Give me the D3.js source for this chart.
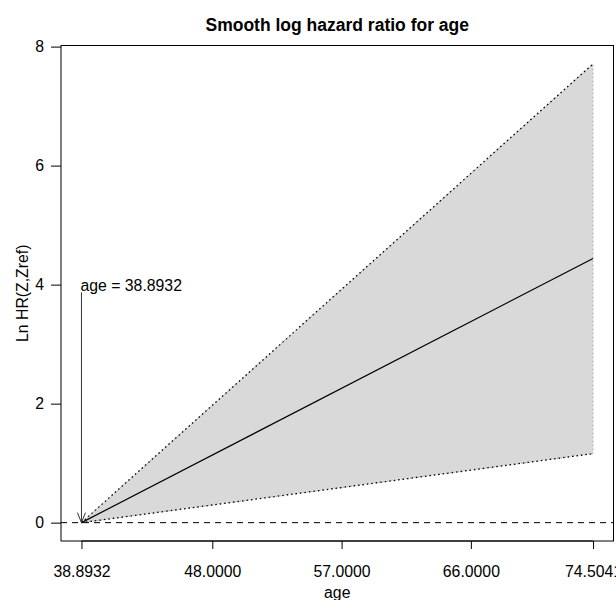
<!DOCTYPE html>
<html>
<head>
<meta charset="utf-8">
<script src="https://cdn.jsdelivr.net/npm/d3@7"></script>
<style>
  body { margin: 0; background: #fff; }
  text { font-family: "Liberation Sans", Arial, sans-serif; }
</style>
</head>
<body>
<div id="chart"></div>
<script>
/*
    DATA
*/
let AGE = [38.8932, 74.5041];
let LOG_HR = [0, 4.44];
let LOWER = [0, 1.16];
let UPPER = [0, 7.71];
let X_TICKS = [38.8932, 48, 57, 66, 74.5041];
let Y_TICKS = [0, 2, 4, 6, 8];
let REF_AGE = 38.8932;

/*
    LAYOUT
*/
let SIZE = { width: 616, height: 600 };
let PLOT = { left: 61, right: 613.5, top: 45.5, bot: 541 };
let FONT = 15.8;

let svg = d3.select("#chart")
    .append("svg")
    .attr("width", SIZE.width)
    .attr("height", SIZE.height);

// R style: 4% padding on each side of the data range
let xPad = (AGE[1] - AGE[0]) * 0.04;
let yMax = d3.max(UPPER), yMin = d3.min(LOWER);
let yPad = (yMax - yMin) * 0.04;

let x = d3.scaleLinear()
    .domain([AGE[0] - xPad, AGE[1] + xPad])
    .range([PLOT.left, PLOT.right]);
let y = d3.scaleLinear()
    .domain([yMin - yPad, yMax + yPad])
    .range([PLOT.bot, PLOT.top]);

let rows = AGE.map((a, i) => ({ age: a, est: LOG_HR[i], lo: LOWER[i], hi: UPPER[i] }));

// confidence band
let poly = rows.map(d => [x(d.age), y(d.hi)]).concat(rows.slice().reverse().map(d => [x(d.age), y(d.lo)]));
svg.append("path")
    .attr("d", "M" + poly.join("L") + "Z")
    .attr("fill", "#d9d9d9")
    .attr("stroke", "#a8a8a8")
    .attr("stroke-dasharray", "1.5,2.5");

let line = key => d3.line().x(d => x(d.age)).y(d => y(d[key]));

["hi", "lo"].forEach(k => {
    svg.append("path")
        .attr("d", line(k)(rows))
        .attr("fill", "none")
        .attr("stroke", "#000")
        .attr("stroke-width", 1.3)
        .attr("stroke-dasharray", "1.5,3");
});

svg.append("path")
    .attr("d", line("est")(rows))
    .attr("fill", "none")
    .attr("stroke", "#000")
    .attr("stroke-width", 1.2);

// reference line at 0
svg.append("line")
    .attr("x1", PLOT.left).attr("x2", PLOT.right)
    .attr("y1", y(0)).attr("y2", y(0))
    .attr("stroke", "#000")
    .attr("stroke-dasharray", "6,5");

// arrow annotation
let ax = x(REF_AGE), ay0 = y(3.87), ay1 = y(0);
svg.append("line")
    .attr("x1", ax).attr("x2", ax)
    .attr("y1", ay0).attr("y2", ay1)
    .attr("stroke", "#333")
    .attr("stroke-width", 1);
svg.append("path")
    .attr("d", `M${ax - 4},${ay1 - 10}L${ax},${ay1}L${ax + 4},${ay1 - 10}`)
    .attr("fill", "none")
    .attr("stroke", "#333");
svg.append("text")
    .attr("x", ax - 1)
    .attr("y", y(3.9))
    .style("font-size", FONT + "px")
    .text("age = " + REF_AGE.toFixed(4));

// box
svg.append("rect")
    .attr("x", PLOT.left).attr("y", PLOT.top)
    .attr("width", PLOT.right - PLOT.left)
    .attr("height", PLOT.bot - PLOT.top)
    .attr("fill", "none")
    .attr("stroke", "#000");

// axes
let xAxis = svg.append("g")
    .attr("transform", `translate(0,${PLOT.bot})`)
    .call(d3.axisBottom(x).tickValues(X_TICKS).tickFormat(d3.format(".4f")).tickSizeOuter(0).tickSize(8).tickPadding(17));
let yAxis = svg.append("g")
    .attr("transform", `translate(${PLOT.left},0)`)
    .call(d3.axisLeft(y).tickValues(Y_TICKS).tickFormat(d3.format("d")).tickSizeOuter(0).tickSize(10).tickPadding(7));

[xAxis, yAxis].forEach(g => {
    g.attr("font-size", null).attr("font-family", null);
    g.select(".domain").remove();
    g.selectAll("text").style("font-size", FONT + "px").attr("fill", "#000");
    g.selectAll("line").attr("stroke", "#000");
});
xAxis.append("line")
    .attr("x1", x(X_TICKS[0])).attr("x2", x(X_TICKS[X_TICKS.length - 1]))
    .attr("stroke", "#000");

// titles
svg.append("text")
    .attr("x", (PLOT.left + PLOT.right) / 2)
    .attr("y", 31)
    .attr("text-anchor", "middle")
    .style("font-size", "17.5px")
    .attr("font-weight", "bold")
    .text("Smooth log hazard ratio for age");
svg.append("text")
    .attr("x", (PLOT.left + PLOT.right) / 2)
    .attr("y", 598)
    .attr("text-anchor", "middle")
    .style("font-size", FONT + "px")
    .text("age");
svg.append("text")
    .attr("transform", `translate(28,${(PLOT.top + PLOT.bot) / 2}) rotate(-90)`)
    .attr("text-anchor", "middle")
    .style("font-size", FONT + "px")
    .text("Ln HR(Z,Zref)");
</script>
</body>
</html>
